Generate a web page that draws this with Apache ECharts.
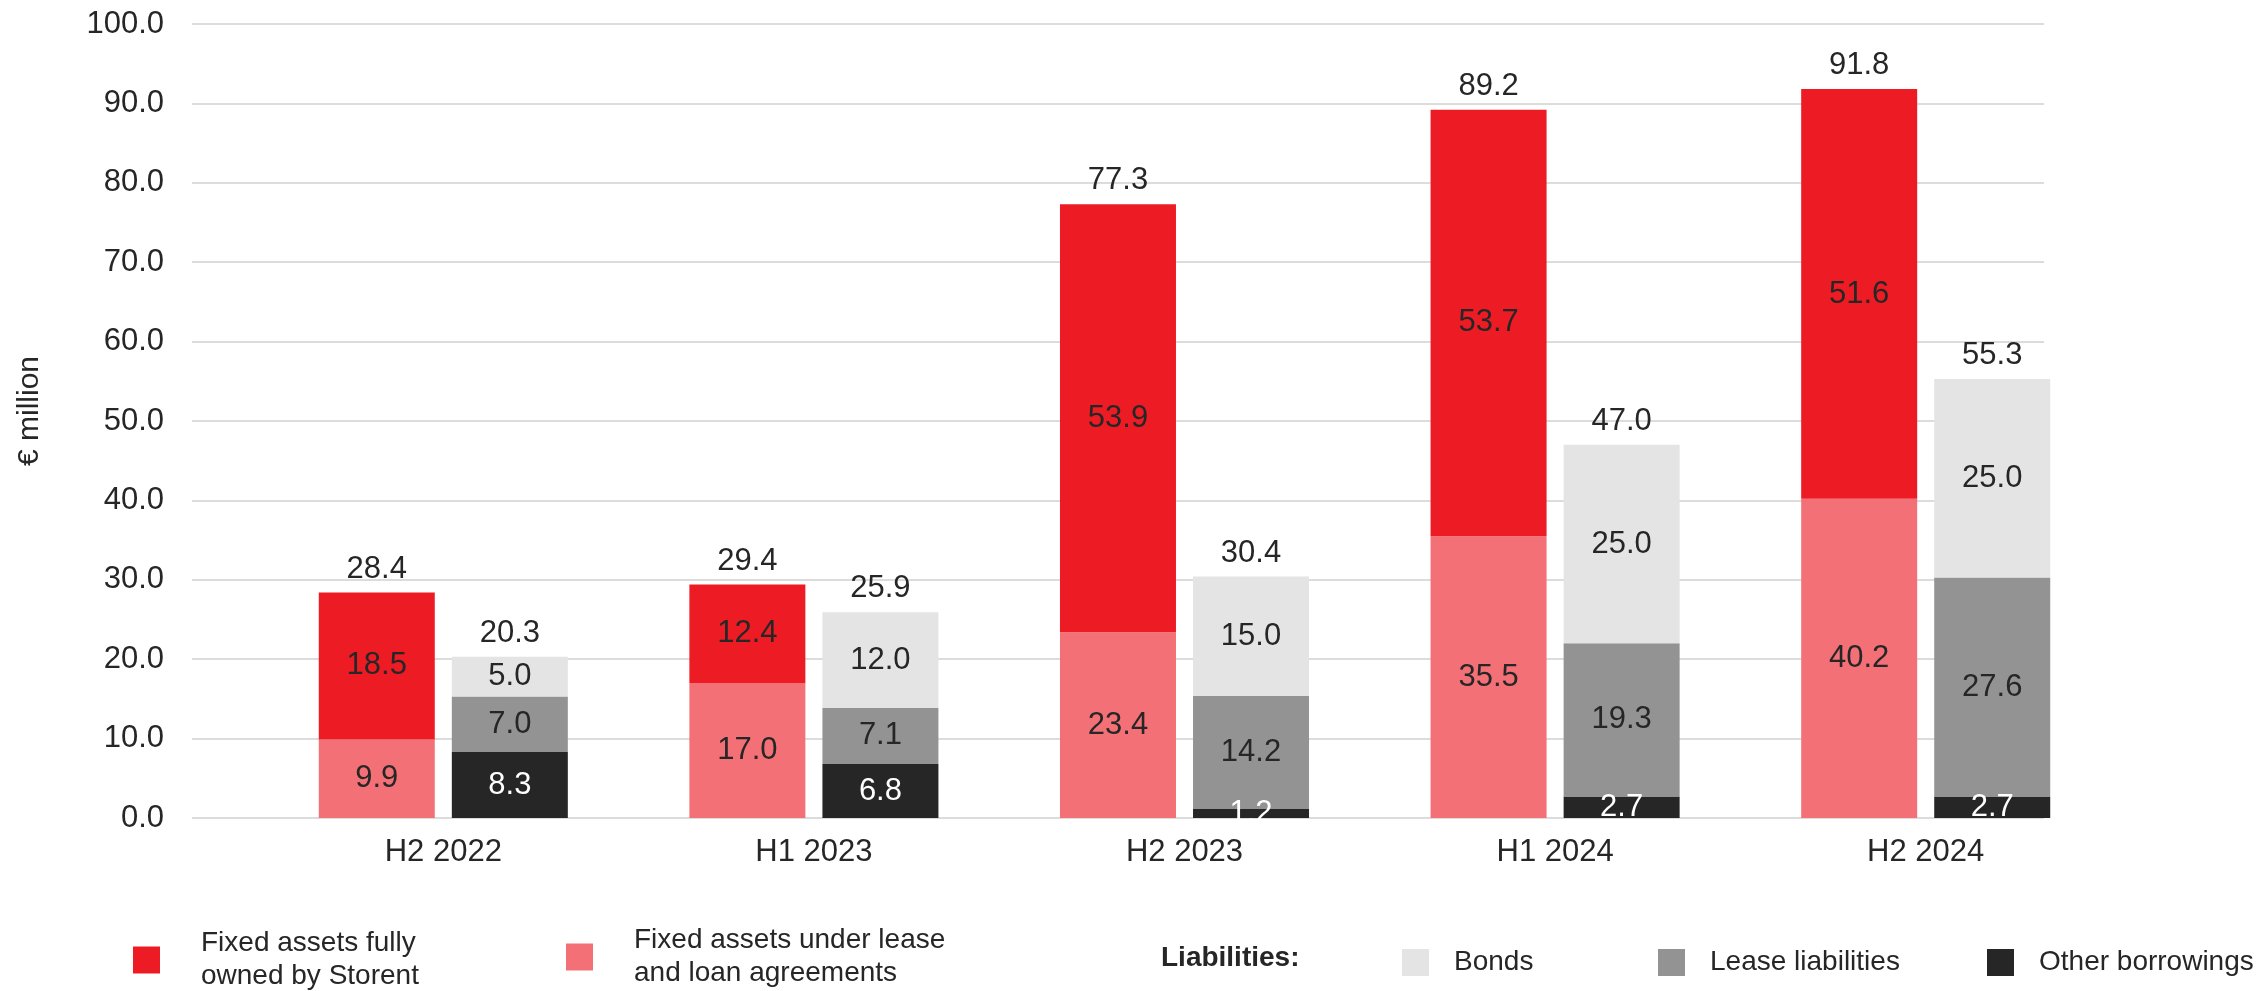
<!DOCTYPE html>
<html>
<head>
<meta charset="utf-8">
<title>Fixed assets and liabilities</title>
<script src="https://cdn.jsdelivr.net/npm/echarts@6/dist/echarts.min.js"></script>
<style>
  html, body { margin: 0; padding: 0; background: #fff; }
  #chart { width: 2259px; height: 991px; }
</style>
</head>
<body>
<div id="chart"></div>
<script>
// periods on the x axis
const periods = ['H2 2022', 'H1 2023', 'H2 2023', 'H1 2024', 'H2 2024']
// assets (left bar)
const underLease = [9.9, 17.0, 23.4, 35.5, 40.2]
const fullyOwned = [18.5, 12.4, 53.9, 53.7, 51.6]
// liabilities (right bar)
const otherBorrowings = [8.3, 6.8, 1.2, 2.7, 2.7]
const leaseLiabilities = [7.0, 7.1, 14.2, 19.3, 27.6]
const bonds = [5.0, 12.0, 15.0, 25.0, 25.0]
// y axis ticks
const yMin = 0
const yMax = 100
const yStep = 10

const FONT = '"Liberation Sans", Arial, sans-serif'
const TXT = '#262626'
const C = {
  owned: '#ED1C24',
  lease: '#F47077',
  bonds: '#E4E4E4',
  leaseLiab: '#939393',
  other: '#262626'
}

const NAMES = {
  owned: 'Fixed assets fully owned by Storent',
  lease: 'Fixed assets under lease and loan agreements',
  bonds: 'Bonds',
  leaseLiab: 'Lease liabilities',
  other: 'Other borrowings'
}

const assetTotals = periods.map((p, i) => underLease[i] + fullyOwned[i])
const liabTotals = periods.map((p, i) => otherBorrowings[i] + leaseLiabilities[i] + bonds[i])

function segment (name, data, stack, color, textColor) {
  return {
    name: name,
    type: 'bar',
    xAxisIndex: 1,
    yAxisIndex: 1,
    stack: stack,
    barWidth: 116,
    barGap: '14.7%',
    data: data,
    itemStyle: { color: color },
    label: {
      show: true,
      position: 'inside',
      color: textColor,
      fontFamily: FONT,
      fontSize: 31,
      formatter: p => p.value.toFixed(1)
    },
    emphasis: { disabled: true }
  }
}

// zero-height bar on top of each stack, only to carry the total
function total (stack, totals) {
  return {
    type: 'bar',
    xAxisIndex: 1,
    yAxisIndex: 1,
    stack: stack,
    barWidth: 116,
    barGap: '14.7%',
    data: periods.map(() => 0),
    itemStyle: { color: 'transparent' },
    label: {
      show: true,
      position: 'top',
      distance: 8,
      color: TXT,
      fontFamily: FONT,
      fontSize: 31,
      formatter: p => totals[p.dataIndex].toFixed(1)
    },
    emphasis: { disabled: true },
    silent: true
  }
}

function legendItem (key, left, top, textPad) {
  return {
    data: [NAMES[key]],
    left: left,
    top: top,
    padding: 0,
    itemWidth: 27,
    itemHeight: 27,
    icon: 'rect',
    selectedMode: false,
    formatter: name => {
      if (key === 'owned') return 'Fixed assets fully\nowned by Storent'
      if (key === 'lease') return 'Fixed assets under lease\nand loan agreements'
      return name
    },
    textStyle: {
      color: TXT,
      fontFamily: FONT,
      fontSize: 28,
      lineHeight: 33,
      padding: [0, 0, 0, textPad]
    }
  }
}

const myChart = echarts.init(document.getElementById('chart'))

myChart.setOption({
  animation: false,
  textStyle: { fontFamily: FONT },
  grid: [
    // grid lines and value labels
    { left: 192, right: 215, top: 24, bottom: 173 },
    // bars (category bands are offset from the grid lines in the original)
    { left: 258, right: 148, top: 24, bottom: 173 }
  ],
  xAxis: [
    { gridIndex: 0, type: 'value', min: 0, max: 1, show: false },
    {
      gridIndex: 1,
      type: 'category',
      data: periods,
      axisLine: { show: false },
      axisTick: { show: false },
      axisLabel: { color: TXT, fontFamily: FONT, fontSize: 31, margin: 19 }
    }
  ],
  yAxis: [
    {
      gridIndex: 0,
      type: 'value',
      min: yMin,
      max: yMax,
      interval: yStep,
      name: '€ million',
      nameLocation: 'middle',
      nameRotate: 90,
      nameGap: 147,
      nameTextStyle: { color: TXT, fontFamily: FONT, fontSize: 30, padding: [0, 0, 0, 20] },
      axisLine: { show: false },
      axisTick: { show: false },
      axisLabel: {
        color: TXT,
        fontFamily: FONT,
        fontSize: 31,
        margin: 28,
        formatter: v => v.toFixed(1)
      },
      splitLine: { lineStyle: { color: '#DCDCDC', width: 2 } }
    },
    {
      gridIndex: 1,
      type: 'value',
      min: yMin,
      max: yMax,
      show: false,
      splitLine: { show: false }
    }
  ],
  legend: [
    legendItem('owned', 133, 927, 36),
    legendItem('lease', 566, 924, 36),
    legendItem('bonds', 1402, 946, 20),
    legendItem('leaseLiab', 1658, 946, 20),
    legendItem('other', 1987, 946, 20)
  ],
  graphic: [
    {
      type: 'text',
      left: 1161,
      top: 944,
      style: {
        text: 'Liabilities:',
        fill: TXT,
        font: 'bold 28px ' + FONT
      }
    }
  ],
  series: [
    segment(NAMES.lease, underLease, 'assets', C.lease, TXT),
    segment(NAMES.owned, fullyOwned, 'assets', C.owned, TXT),
    total('assets', assetTotals),
    segment(NAMES.other, otherBorrowings, 'liab', C.other, '#FFFFFF'),
    segment(NAMES.leaseLiab, leaseLiabilities, 'liab', C.leaseLiab, TXT),
    segment(NAMES.bonds, bonds, 'liab', C.bonds, TXT),
    total('liab', liabTotals)
  ]
})

window.addEventListener('resize', () => {
  myChart.resize()
})
</script>
</body>
</html>
